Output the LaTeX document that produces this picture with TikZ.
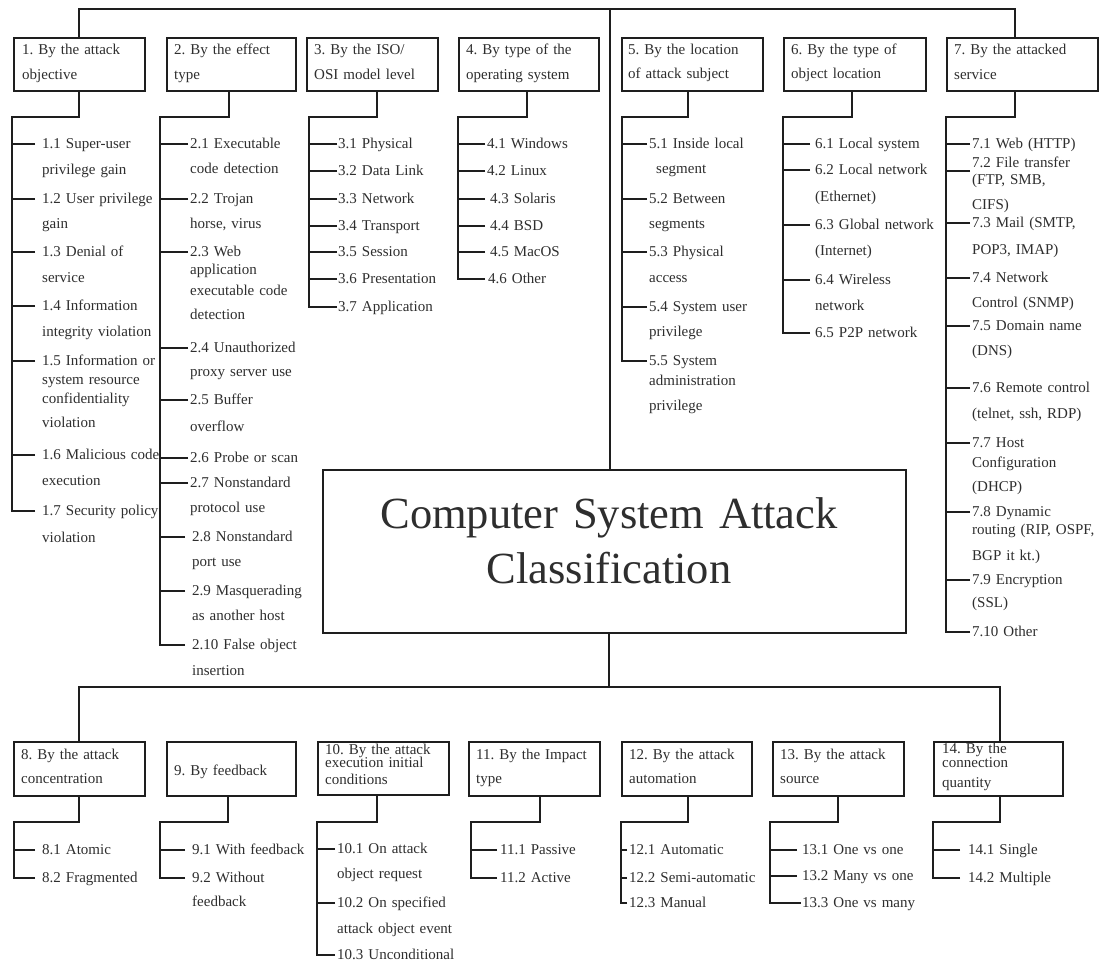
\documentclass[tikz,border=0pt]{standalone}
\usepackage{fontspec}
\setmainfont{Liberation Serif}
\definecolor{lc}{HTML}{1E1E1E}
\definecolor{tc}{HTML}{2E2E2E}
\tikzset{
  ln/.style={draw=lc, line width=2pt},
  catbox/.style={draw=lc, line width=2pt, anchor=north west, inner sep=0pt},
  txt/.style={anchor=base west, inner sep=0pt, align=left, text width=230pt,
    font=\fontsize{15}{25.5}\selectfont, text=tc, yshift=-4.5pt},
}
% leaf: name, trunk coordinate, text position, gap before text, text
\newcommand\mkleaf[5]{%
  \node[txt] (#1) at #3 {#5};
  \draw[ln] ([xshift=-#4pt, yshift=4.5pt]#1.base west) coordinate (#1t) -- (#1t -| #2);
}
\begin{document}
\frenchspacing
\begin{tikzpicture}[x=1pt, y=-1pt]
\fill[white] (0,0) rectangle (1102,965);
\useasboundingbox (0,0) rectangle (1102,965);

% ---------- root ----------
\node[catbox, minimum width=583pt, minimum height=163pt] (root) at (322,469) {};
\node[font=\fontsize{44.5}{55}\selectfont, align=center, text width=570pt, anchor=base,
      inner sep=0pt, text=tc] (title) at (609,528) {Computer System Attack\\Classification};

% ---------- upper categories ----------
\node[catbox, minimum width=131pt, minimum height=53pt] (b1) at (13,37) {};
\node[catbox, minimum width=129pt, minimum height=53pt] (b2) at (166,37) {};
\node[catbox, minimum width=131pt, minimum height=53pt] (b3) at (306,37) {};
\node[catbox, minimum width=140pt, minimum height=53pt] (b4) at (458,37) {};
\node[catbox, minimum width=141pt, minimum height=53pt] (b5) at (621,37) {};
\node[catbox, minimum width=142pt, minimum height=53pt] (b6) at (783,37) {};
\node[catbox, minimum width=151pt, minimum height=53pt] (b7) at (946,37) {};

\node[txt] (b1t) at (22,50) {1. By the attack\\[-0.5pt]objective};
\node[txt] (b2t) at (174,50) {2. By the effect\\[-0.5pt]type};
\node[txt] (b3t) at (314,50) {3. By the ISO/\\[-0.5pt]OSI model level};
\node[txt] (b4t) at (466,50) {4. By type of the\\[-0.5pt]operating system};
\node[txt] (b5t) at (628,50) {5. By the location\\[-1.5pt]of attack subject};
\node[txt] (b6t) at (791,50) {6. By the type of\\[-1.5pt]object location};
\node[txt] (b7t) at (954,50) {7. By the attacked\\[-0.5pt]service};

% ---------- lower categories ----------
\node[catbox, minimum width=131pt, minimum height=54pt] (b8) at (13,741) {};
\node[catbox, minimum width=129pt, minimum height=54pt] (b9) at (166,741) {};
\node[catbox, minimum width=131pt, minimum height=53pt] (b10) at (317,741) {};
\node[catbox, minimum width=131pt, minimum height=54pt] (b11) at (468,741) {};
\node[catbox, minimum width=130pt, minimum height=54pt] (b12) at (621,741) {};
\node[catbox, minimum width=131pt, minimum height=54pt] (b13) at (772,741) {};
\node[catbox, minimum width=129pt, minimum height=54pt] (b14) at (933,741) {};

\node[txt] (b8t) at (21,755) {8. By the attack\\[-1.5pt]concentration};
\node[txt] (b9t) at (174,771) {9. By feedback};
\node[txt] (b10t) at (325,750) {10. By the attack\\[-12.5pt]execution initial\\[-8.5pt]conditions};
\node[txt] (b11t) at (476,755) {11. By the Impact\\[-1.5pt]type};
\node[txt] (b12t) at (629,755) {12. By the attack\\[-1.5pt]automation};
\node[txt] (b13t) at (780,755) {13. By the attack\\[-1.5pt]source};
\node[txt] (b14t) at (942,749) {14. By the\\[-11.5pt]connection\\[-5.5pt]quantity};

% ---------- buses ----------
\coordinate (k1) at (79,9);
\coordinate (k0) at (610,9);
\coordinate (k7) at (1015,9);
\draw[ln] (b1.north -| k1) -- (k1) -- (k7) -- (b7.north -| k7);
\draw[ln] (k0) -- (root.north -| k0);

\coordinate (kb) at (609,687);
\coordinate (k8) at (79,687);
\coordinate (k14) at (1000,687);
\draw[ln] (root.south -| kb) -- (kb);
\draw[ln] (b8.north -| k8) -- (k8) -- (k14) -- (b14.north -| k14);

% ---------- branch joints ----------
\coordinate (c1) at (79,117);   \coordinate (tr1) at (12,117);
\coordinate (c2) at (229,117);  \coordinate (tr2) at (160,117);
\coordinate (c3) at (377,117);  \coordinate (tr3) at (309,117);
\coordinate (c4) at (527,117);  \coordinate (tr4) at (458,117);
\coordinate (c5) at (688,117);  \coordinate (tr5) at (622,117);
\coordinate (c6) at (852,117);  \coordinate (tr6) at (783,117);
\coordinate (c7) at (1015,117); \coordinate (tr7) at (946,117);

\coordinate (c8) at (79,822);   \coordinate (tr8) at (14,822);
\coordinate (c9) at (228,822);  \coordinate (tr9) at (160,822);
\coordinate (c10) at (377,822); \coordinate (tr10) at (317,822);
\coordinate (c11) at (540,822); \coordinate (tr11) at (471,822);
\coordinate (c12) at (688,822); \coordinate (tr12) at (621,822);
\coordinate (c13) at (838,822); \coordinate (tr13) at (770,822);
\coordinate (c14) at (1000,822);\coordinate (tr14) at (933,822);

% ---------- 1 ----------
\mkleaf{i11}{tr1}{(42,144)}{7}{1.1 Super-user\\[0.5pt]privilege gain}
\mkleaf{i12}{tr1}{(42,199)}{7}{1.2 User privilege\\[-0.5pt]gain}
\mkleaf{i13}{tr1}{(42,252)}{7}{1.3 Denial of\\[0.5pt]service}
\mkleaf{i14}{tr1}{(42,306)}{7}{1.4 Information\\[0.5pt]integrity violation}
\mkleaf{i15}{tr1}{(42,361)}{7}{1.5 Information or\\[-6.5pt]system resource\\[-6.5pt]confidentiality\\[-1.5pt]violation}
\mkleaf{i16}{tr1}{(42,455)}{7}{1.6 Malicious code\\[0.5pt]execution}
\mkleaf{i17}{tr1}{(42,511)}{7}{1.7 Security policy\\[1.5pt]violation}
\draw[ln] (b1.south -| c1) |- (tr1) |- (i17t);

% ---------- 2 ----------
\mkleaf{i21}{tr2}{(190,144)}{2}{2.1 Executable\\[-0.5pt]code detection}
\mkleaf{i22}{tr2}{(190,199)}{2}{2.2 Trojan\\[-0.5pt]horse, virus}
\mkleaf{i23}{tr2}{(190,252)}{2}{2.3 Web\\[-7.5pt]application\\[-4.5pt]executable code\\[-1.5pt]detection}
\mkleaf{i24}{tr2}{(190,348)}{2}{2.4 Unauthorized\\[-1.5pt]proxy server use}
\mkleaf{i25}{tr2}{(190,400)}{2}{2.5 Buffer\\[1.5pt]overflow}
\mkleaf{i26}{tr2}{(190,458)}{2}{2.6 Probe or scan}
\mkleaf{i27}{tr2}{(190,483)}{2}{2.7 Nonstandard\\[-0.5pt]protocol use}
\mkleaf{i28}{tr2}{(192,537)}{7}{2.8 Nonstandard\\[-0.5pt]port use}
\mkleaf{i29}{tr2}{(192,591)}{7}{2.9 Masquerading\\[-0.5pt]as another host}
\mkleaf{i210}{tr2}{(192,645)}{7}{2.10 False object\\[0.5pt]insertion}
\draw[ln] (b2.south -| c2) |- (tr2) |- (i210t);

% ---------- 3 ----------
\mkleaf{i31}{tr3}{(338,144)}{1}{3.1 Physical}
\mkleaf{i32}{tr3}{(338,171)}{1}{3.2 Data Link}
\mkleaf{i33}{tr3}{(338,199)}{1}{3.3 Network}
\mkleaf{i34}{tr3}{(338,226)}{1}{3.4 Transport}
\mkleaf{i35}{tr3}{(338,252)}{1}{3.5 Session}
\mkleaf{i36}{tr3}{(338,279)}{1}{3.6 Presentation}
\mkleaf{i37}{tr3}{(338,307)}{1}{3.7 Application}
\draw[ln] (b3.south -| c3) |- (tr3) |- (i37t);

% ---------- 4 ----------
\mkleaf{i41}{tr4}{(487,144)}{2}{4.1 Windows}
\mkleaf{i42}{tr4}{(487,171)}{2}{4.2 Linux}
\mkleaf{i43}{tr4}{(490,199)}{5}{4.3 Solaris}
\mkleaf{i44}{tr4}{(490,226)}{5}{4.4 BSD}
\mkleaf{i45}{tr4}{(490,252)}{5}{4.5 MacOS}
\mkleaf{i46}{tr4}{(488,279)}{3}{4.6 Other}
\draw[ln] (b4.south -| c4) |- (tr4) |- (i46t);

% ---------- 5 ----------
\mkleaf{i51}{tr5}{(649,144)}{2}{5.1 Inside local\\[-0.5pt]\hspace*{7pt}segment}
\mkleaf{i52}{tr5}{(649,199)}{2}{5.2 Between\\[-0.5pt]segments}
\mkleaf{i53}{tr5}{(649,252)}{2}{5.3 Physical\\[0.5pt]access}
\mkleaf{i54}{tr5}{(649,307)}{2}{5.4 System user\\[-0.5pt]privilege}
\mkleaf{i55}{tr5}{(649,361)}{2}{5.5 System\\[-5.5pt]administration\\[-0.5pt]privilege}
\draw[ln] (b5.south -| c5) |- (tr5) |- (i55t);

% ---------- 6 ----------
\mkleaf{i61}{tr6}{(815,144)}{5}{6.1 Local system}
\mkleaf{i62}{tr6}{(815,170)}{5}{6.2 Local network\\[1.5pt](Ethernet)}
\mkleaf{i63}{tr6}{(815,225)}{5}{6.3 Global network\\[0.5pt](Internet)}
\mkleaf{i64}{tr6}{(815,280)}{5}{6.4 Wireless\\[0.5pt]network}
\mkleaf{i65}{tr6}{(815,333)}{5}{6.5 P2P network}
\draw[ln] (b6.south -| c6) |- (tr6) |- (i65t);

% ---------- 7 ----------
\mkleaf{i71}{tr7}{(972,144)}{2}{7.1 Web (HTTP)}
\node[txt] (i72) at (972,163) {7.2 File transfer\\[-8.5pt](FTP, SMB,\\[-0.5pt]CIFS)};
\draw[ln] ([xshift=-2pt, yshift=-3.5pt]i72.base west) coordinate (i72t) -- (i72t -| tr7);
\mkleaf{i73}{tr7}{(972,223)}{2}{7.3 Mail (SMTP,\\[1.5pt]POP3, IMAP)}
\mkleaf{i74}{tr7}{(972,278)}{2}{7.4 Network\\[-0.5pt]Control (SNMP)}
\mkleaf{i75}{tr7}{(972,326)}{2}{7.5 Domain name\\[-0.5pt](DNS)}
\mkleaf{i76}{tr7}{(972,388)}{2}{7.6 Remote control\\[0.5pt](telnet, ssh, RDP)}
\mkleaf{i77}{tr7}{(972,443)}{2}{7.7 Host\\[-5.5pt]Configuration\\[-1.5pt](DHCP)}
\mkleaf{i78}{tr7}{(972,512)}{2}{7.8 Dynamic\\[-7.5pt]routing (RIP, OSPF,\\[0.5pt]BGP it kt.)}
\mkleaf{i79}{tr7}{(972,580)}{2}{7.9 Encryption\\[-2.5pt](SSL)}
\mkleaf{i710}{tr7}{(972,632)}{2}{7.10 Other}
\draw[ln] (b7.south -| c7) |- (tr7) |- (i710t);

% ---------- 8 ----------
\mkleaf{i81}{tr8}{(42,850)}{7}{8.1 Atomic}
\mkleaf{i82}{tr8}{(42,878)}{7}{8.2 Fragmented}
\draw[ln] (b8.south -| c8) |- (tr8) |- (i82t);

% ---------- 9 ----------
\mkleaf{i91}{tr9}{(192,850)}{7}{9.1 With feedback}
\mkleaf{i92}{tr9}{(192,878)}{7}{9.2 Without\\[-1.5pt]feedback}
\draw[ln] (b9.south -| c9) |- (tr9) |- (i92t);

% ---------- 10 ----------
\mkleaf{i101}{tr10}{(337,849)}{2}{10.1 On attack\\[-0.5pt]object request}
\mkleaf{i102}{tr10}{(337,903)}{2}{10.2 On specified\\[0.5pt]attack object event}
\mkleaf{i103}{tr10}{(337,955)}{2}{10.3 Unconditional}
\draw[ln] (b10.south -| c10) |- (tr10) |- (i103t);

% ---------- 11 ----------
\mkleaf{i111}{tr11}{(500,850)}{3}{11.1 Passive}
\mkleaf{i112}{tr11}{(500,878)}{3}{11.2 Active}
\draw[ln] (b11.south -| c11) |- (tr11) |- (i112t);

% ---------- 12 ----------
\mkleaf{i121}{tr12}{(629,850)}{2}{12.1 Automatic}
\mkleaf{i122}{tr12}{(629,878)}{2}{12.2 Semi-automatic}
\mkleaf{i123}{tr12}{(629,903)}{2}{12.3 Manual}
\draw[ln] (b12.south -| c12) |- (tr12) |- (i123t);

% ---------- 13 ----------
\mkleaf{i131}{tr13}{(802,850)}{5}{13.1 One vs one}
\mkleaf{i132}{tr13}{(802,876)}{5}{13.2 Many vs one}
\mkleaf{i133}{tr13}{(802,903)}{1}{13.3 One vs many}
\draw[ln] (b13.south -| c13) |- (tr13) |- (i133t);

% ---------- 14 ----------
\mkleaf{i141}{tr14}{(968,850)}{8}{14.1 Single}
\mkleaf{i142}{tr14}{(968,878)}{8}{14.2 Multiple}
\draw[ln] (b14.south -| c14) |- (tr14) |- (i142t);

\end{tikzpicture}
\end{document}
